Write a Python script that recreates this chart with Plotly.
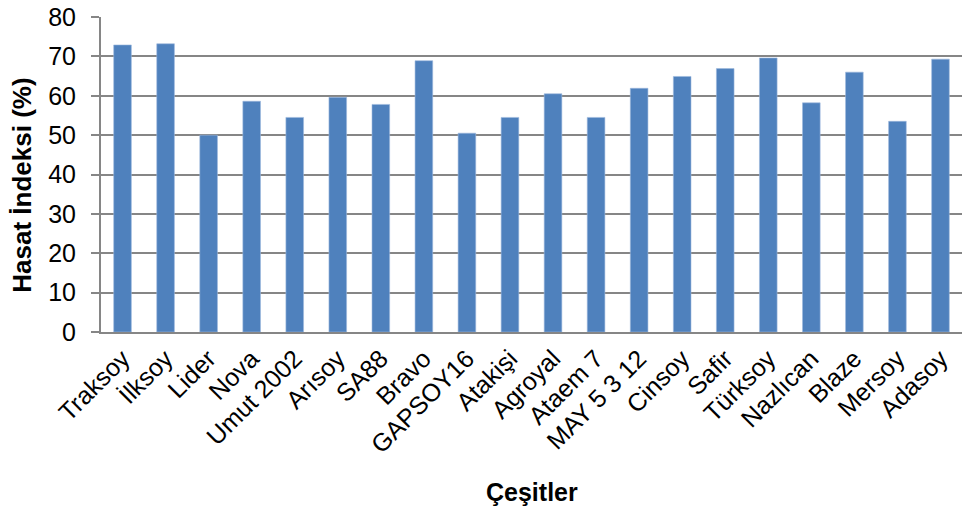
import plotly.graph_objects as go

cesitler = ["Traksoy", "İlksoy", "Lider", "Nova", "Umut 2002", "Arısoy", "SA88", "Bravo",
            "GAPSOY16", "Atakişi", "Agroyal", "Ataem 7", "MAY 5 3 12", "Cinsoy", "Safir",
            "Türksoy", "Nazlıcan", "Blaze", "Mersoy", "Adasoy"]
hasat_indeksi = [72.9, 73.2, 50.0, 58.6, 54.5, 59.6, 57.8, 68.9, 50.5, 54.5,
                 60.5, 54.5, 61.9, 64.9, 66.9, 69.6, 58.2, 66.0, 53.5, 69.3]
y_ticks = [0, 10, 20, 30, 40, 50, 60, 70, 80]

x_title = "Çeşitler"
y_title = "Hasat İndeksi (%)"

fig = go.Figure(go.Bar(
    x=cesitler,
    y=hasat_indeksi,
    marker=dict(color="#4F81BD", line=dict(color="#9DB9DE", width=0.6)),
))

font_family = "Liberation Sans, Arial, sans-serif"

fig.update_layout(
    width=962, height=511,
    margin=dict(l=101, r=0, t=17, b=179),
    paper_bgcolor="white", plot_bgcolor="white",
    bargap=0.59,
    showlegend=False,
    font=dict(family=font_family, color="black"),
    xaxis=dict(
        tickangle=-45,
        tickfont=dict(size=25, family=font_family),
        showline=True, linecolor="#868686", linewidth=2,
        ticks="", showgrid=False,
        automargin=False,
    ),
    yaxis=dict(
        range=[0, 80], tickvals=y_ticks,
        tickfont=dict(size=25, family=font_family),
        showline=True, linecolor="#868686", linewidth=2,
        ticks="outside", ticklen=8, tickcolor="#868686", tickwidth=2,
        ticklabelstandoff=10,
        showgrid=True, gridcolor="#868686", gridwidth=2,
        zeroline=False,
        automargin=False,
    ),
    annotations=[
        dict(text=f"<b>{x_title}</b>", xref="paper", yref="paper",
             x=0.5, y=-0.508, xanchor="center", yanchor="middle",
             showarrow=False, font=dict(size=25)),
        dict(text=f"<b>{y_title}</b>", xref="paper", yref="paper",
             x=-0.092, y=0.467, xanchor="center", yanchor="middle",
             textangle=-90, showarrow=False, font=dict(size=26)),
    ],
)

fig.write_html("out.html")
